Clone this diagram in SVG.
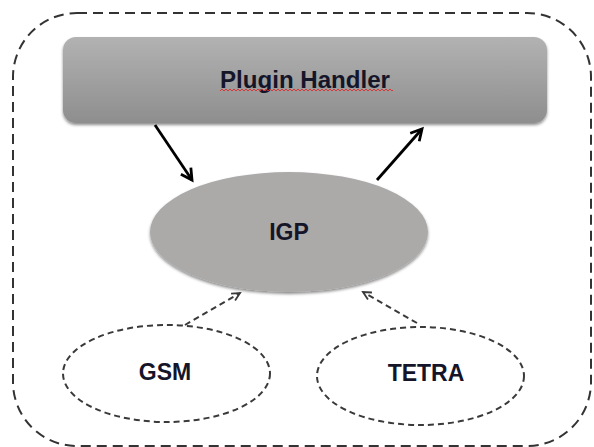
<svg xmlns="http://www.w3.org/2000/svg" width="594" height="447" viewBox="0 0 594 447">
<style>
.lbl{font-family:"Liberation Sans",Arial,sans-serif;font-weight:bold;font-size:23px;fill:#15152a;text-anchor:middle}
.dash{fill:none;stroke:#3a3a3a;stroke-width:2;stroke-dasharray:6 4}
.solid{fill:none;stroke:#000;stroke-width:2.8}
</style>
<defs>
<linearGradient id="gBox" x1="0" y1="0" x2="0" y2="1">
<stop offset="0" stop-color="#b2b2b2"/>
<stop offset="1" stop-color="#8e8e8e"/>
</linearGradient>
<filter id="shadow" x="-10%" y="-10%" width="120%" height="130%">
<feDropShadow dx="0" dy="2" stdDeviation="1.5" flood-color="#000" flood-opacity="0.45"/>
</filter>
<marker id="arrS" viewBox="0 0 16 16" refX="13" refY="8" markerWidth="16" markerHeight="16" markerUnits="userSpaceOnUse" orient="auto">
<path d="M2,2 L13,8 L2,14" fill="none" stroke="#000" stroke-width="2.8"/>
</marker>
<marker id="arrD" viewBox="0 0 12 12" refX="10" refY="6" markerWidth="12" markerHeight="12" markerUnits="userSpaceOnUse" orient="auto">
<path d="M2,2 L10,6 L2,10" fill="none" stroke="#3a3a3a" stroke-width="1.8"/>
</marker>
<pattern id="squig" x="0" y="0" width="4" height="4" patternUnits="userSpaceOnUse">
<path d="M0,3 L2,1 L4,3" fill="none" stroke="#e02828" stroke-width="0.9"/>
</pattern>
</defs>

<g id="boundary">
<rect x="13" y="13" width="578" height="433" rx="64" ry="64" fill="none" stroke="#333" stroke-width="2" stroke-dasharray="10 6"/>
</g>

<g id="plugin-handler">
<rect x="63" y="37" width="484" height="86" rx="13" ry="13" fill="url(#gBox)" filter="url(#shadow)"/>
<text class="lbl" x="305" y="88" textLength="170" lengthAdjust="spacingAndGlyphs">Plugin Handler</text>
<rect x="220" y="89" width="173" height="4" fill="url(#squig)"/>
</g>

<g id="igp">
<ellipse cx="289" cy="232" rx="139" ry="60" fill="#aca9a9" filter="url(#shadow)"/>
<text class="lbl" x="289" y="240">IGP</text>
</g>

<g id="gsm">
<ellipse class="dash" cx="166.5" cy="373.5" rx="103.5" ry="48.5"/>
<text class="lbl" x="165" y="380">GSM</text>
</g>

<g id="tetra">
<ellipse class="dash" cx="420.5" cy="376" rx="103.5" ry="49"/>
<text class="lbl" x="426" y="381">TETRA</text>
</g>

<g id="connectors">
<line class="solid" x1="155" y1="125" x2="192" y2="180" marker-end="url(#arrS)"/>
<line class="solid" x1="377" y1="180" x2="422" y2="129" marker-end="url(#arrS)"/>
<line class="dash" x1="185" y1="325" x2="240" y2="293" stroke-dasharray="5 3.5" marker-end="url(#arrD)"/>
<line class="dash" x1="417" y1="323" x2="363" y2="292" stroke-dasharray="5 3.5" marker-end="url(#arrD)"/>
</g>
</svg>
